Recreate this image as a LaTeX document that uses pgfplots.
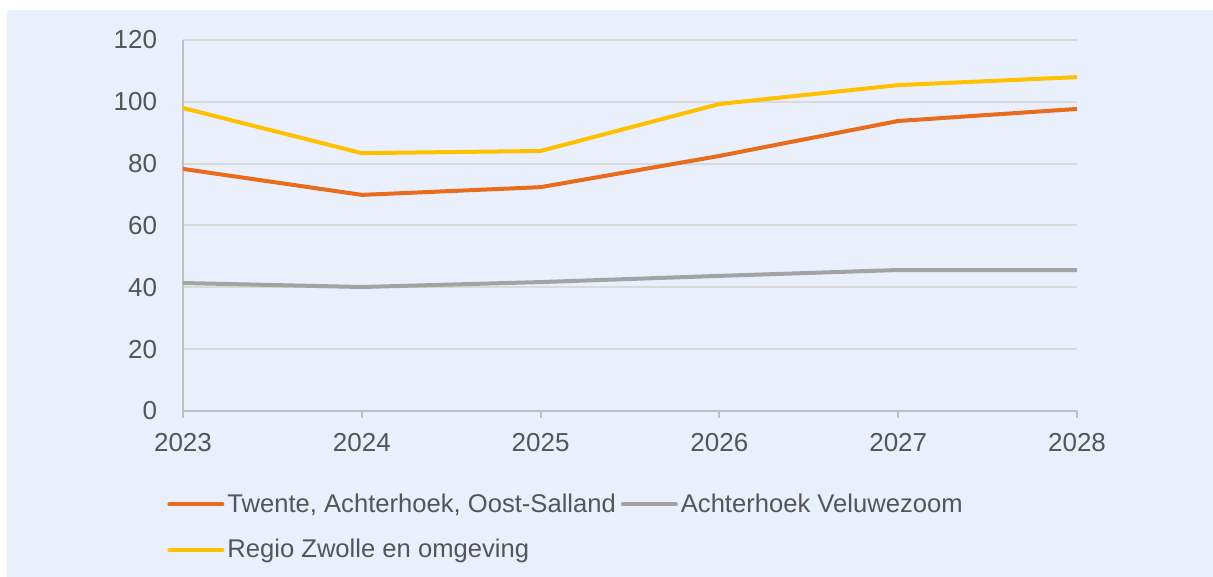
\documentclass[border=0pt]{standalone}
\usepackage{fontspec}
\setmainfont{Liberation Sans}
\usepackage{pgfplots}
\pgfplotsset{compat=1.18}
\definecolor{bgblue}{HTML}{E9F0FC}
\definecolor{txt}{HTML}{555555}
\definecolor{gridc}{HTML}{D9D9D9}
\definecolor{axc}{HTML}{BFBFBF}
\definecolor{corange}{HTML}{EB6B1C}
\definecolor{cgray}{HTML}{A3A3A3}
\definecolor{cyellow}{HTML}{FFC000}
\begin{document}
\begin{tikzpicture}[x=1pt,y=1pt]
\fill[white] (0,0) rectangle (606.5,288.5);
\fill[bgblue] (3.5,0) rectangle (606.5,283.5);
\begin{axis}[
  at={(91.5pt,83pt)}, anchor=south west,
  scale only axis, width=447pt, height=185.5pt,
  xmin=2023, xmax=2028, ymin=0, ymax=120,
  xtick={2023,2024,2025,2026,2027,2028},
  ytick={0,20,40,60,80,100,120},
  xticklabel style={/pgf/number format/1000 sep={}},
  /pgf/number format/assume math mode=true,
  axis lines=left,
  axis line style={-, draw=axc, line width=1pt},
  x axis line style={-}, y axis line style={-},
  ymajorgrids, grid style={draw=gridc, line width=1pt},
  tick align=outside,
  major tick length=3.5pt,
  x tick style={draw=axc, line width=1pt},
  y tick style={draw=none},
  ticklabel style={font=\fontsize{13}{15}\selectfont, text=txt},
  xticklabel style={yshift=-4pt},
  yticklabel style={xshift=-6pt},
  legend columns=2,
  legend style={draw=none, fill=none, at={(-0.0179,-0.2)}, anchor=north west,
    font=\fontsize{12.8}{15}\selectfont, text=txt,
    row sep=8pt,
    nodes={inner xsep=1.5pt},
    /tikz/every even column/.append style={column sep=1pt},
    inner xsep=0pt},
  legend cell align=left,
  legend image code/.code={\draw[#1, line width=2pt] (0pt,0pt) -- (26.5pt,0pt);},
  every axis plot/.append style={line width=2pt, line join=round, line cap=round},
]
\addplot[corange, mark=none] coordinates {(2023,78.3) (2024,69.9) (2025,72.4) (2026,82.5) (2027,93.8) (2028,97.7)};
\addlegendentry{Twente, Achterhoek, Oost-Salland}
\addplot[cgray, mark=none] coordinates {(2023,41.4) (2024,40.1) (2025,41.7) (2026,43.7) (2027,45.6) (2028,45.6)};
\addlegendentry{Achterhoek Veluwezoom}
\addplot[cyellow, mark=none] coordinates {(2023,98.0) (2024,83.4) (2025,84.1) (2026,99.3) (2027,105.4) (2028,108.0)};
\addlegendentry{Regio Zwolle en omgeving}
\end{axis}
\end{tikzpicture}
\end{document}
